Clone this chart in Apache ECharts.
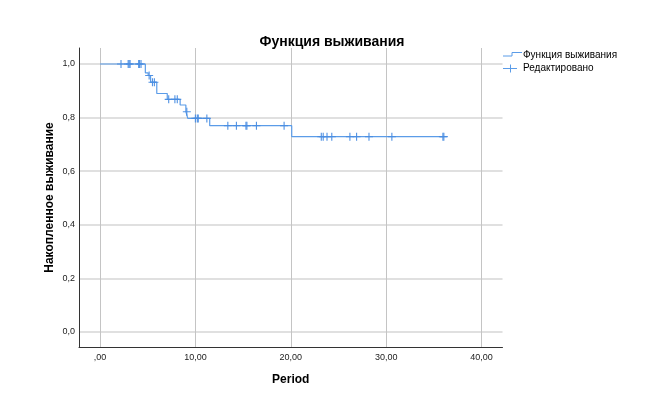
<!DOCTYPE html>
<html><head><meta charset="utf-8">
<script src="https://cdn.jsdelivr.net/npm/echarts@6/dist/echarts.min.js"></script>
<style>html,body{margin:0;padding:0;background:#fff}#c{width:664px;height:408px}</style>
</head><body><div id="c"></div>
<script>
const stepTimes = [0, 4.75, 5.05, 5.3, 5.95, 7.05, 8.4, 9.0, 9.2, 11.5, 20.1, 36.0];
const stepSurv  = [1.0, 0.967, 0.957, 0.932, 0.89, 0.868, 0.847, 0.822, 0.797, 0.77, 0.729, 0.729];
const censorTimes = [2.2, 2.95, 3.05, 3.15, 4.05, 4.15, 4.3, 5.15, 5.5, 5.7, 7.2, 7.85, 8.1, 9.1,
  10.0, 10.2, 10.3, 11.2, 13.4, 14.3, 15.3, 15.4, 16.4, 19.3,
  23.2, 23.4, 23.8, 24.3, 26.2, 26.9, 28.2, 30.6, 35.95, 36.05];
const censorSurv = [1, 1, 1, 1, 1, 1, 1, 0.957, 0.932, 0.932, 0.868, 0.868, 0.868, 0.822,
  0.797, 0.797, 0.797, 0.797, 0.77, 0.77, 0.77, 0.77, 0.77, 0.77,
  0.729, 0.729, 0.729, 0.729, 0.729, 0.729, 0.729, 0.729, 0.729, 0.729];
const xTicks = [0, 10, 20, 30, 40];
const yTicks = [0, 0.2, 0.4, 0.6, 0.8, 1.0];
const titleText = 'Функция выживания';
const xName = 'Period';
const yName = 'Накопленное выживание';
const legendNames = ['Функция выживания', 'Редактировано'];

const FONT = '"Liberation Sans", Arial, sans-serif';
const lineColor = '#5b9ce8';
const markColor = '#4a8de2';
const plus = 'path://M4.3,0 H5.7 V4.3 H10 V5.7 H5.7 V10 H4.3 V5.7 H0 V4.3 H4.3 Z';

const chart = echarts.init(document.getElementById('c'), null, {renderer: 'canvas'});
chart.setOption({
  animation: false,
  title: {text: titleText, left: 'center', top: 30,
    textStyle: {fontFamily: FONT, fontSize: 14, fontWeight: 'bold', color: '#000'}},
  grid: {left: 79, right: 161.5, top: 48, bottom: 61, containLabel: false},
  xAxis: {
    type: 'value', min: -2.205, max: 42.2,
    name: xName, nameLocation: 'middle', nameGap: 27, nameMoveOverlap: false,
    nameTextStyle: {fontFamily: FONT, fontSize: 12, fontWeight: 'bold', color: '#000', verticalAlign: 'top'},
    axisLine: {show: true, onZero: false, lineStyle: {color: '#333', width: 1}},
    axisTick: {show: false, customValues: xTicks},
    axisLabel: {customValues: xTicks, margin: 6, fontFamily: FONT, fontSize: 9, color: '#222',
      formatter: v => v === 0 ? ',00' : v.toFixed(2).replace('.', ',')},
    splitLine: {show: true, lineStyle: {color: '#c4c4c4', width: 1}}
  },
  yAxis: {
    type: 'value', min: -0.056, max: 1.0597,
    name: yName, nameLocation: 'middle', nameGap: 23, nameRotate: 90, nameMoveOverlap: false,
    nameTextStyle: {fontFamily: FONT, fontSize: 12, fontWeight: 'bold', color: '#000'},
    axisLine: {show: true, onZero: false, lineStyle: {color: '#333', width: 1}},
    axisTick: {show: false, customValues: yTicks},
    axisLabel: {customValues: yTicks, margin: 4, fontFamily: FONT, fontSize: 9, color: '#222',
      formatter: v => v.toFixed(1).replace('.', ',')},
    splitLine: {show: true, lineStyle: {color: '#e0e0e0', width: 2}}
  },
  series: [
    {name: legendNames[0], type: 'line', step: 'end', showSymbol: false,
      data: stepTimes.map((t, i) => [t, stepSurv[i]]),
      lineStyle: {color: lineColor, width: 1.2}, itemStyle: {color: lineColor}, z: 3},
    {name: legendNames[1], type: 'scatter', symbol: plus, symbolSize: 8,
      data: censorTimes.map((t, i) => [t, censorSurv[i]]),
      itemStyle: {color: markColor, opacity: 0.95}, z: 4}
  ],
  graphic: [
    {type: 'polyline', shape: {points: [[503, 56], [512, 56], [512, 52.5], [522, 52.5]]},
      style: {stroke: lineColor, lineWidth: 1, fill: null}},
    {type: 'text', left: 523, top: 50.5, style: {text: legendNames[0], font: '10px ' + FONT, fill: '#000'}},
    {type: 'line', shape: {x1: 503, y1: 68.5, x2: 517, y2: 68.5}, style: {stroke: lineColor, lineWidth: 1}},
    {type: 'line', shape: {x1: 510.5, y1: 64.5, x2: 510.5, y2: 72.5}, style: {stroke: lineColor, lineWidth: 1}},
    {type: 'text', left: 523, top: 63.5, style: {text: legendNames[1], font: '10px ' + FONT, fill: '#000'}}
  ]
});
</script></body></html>
